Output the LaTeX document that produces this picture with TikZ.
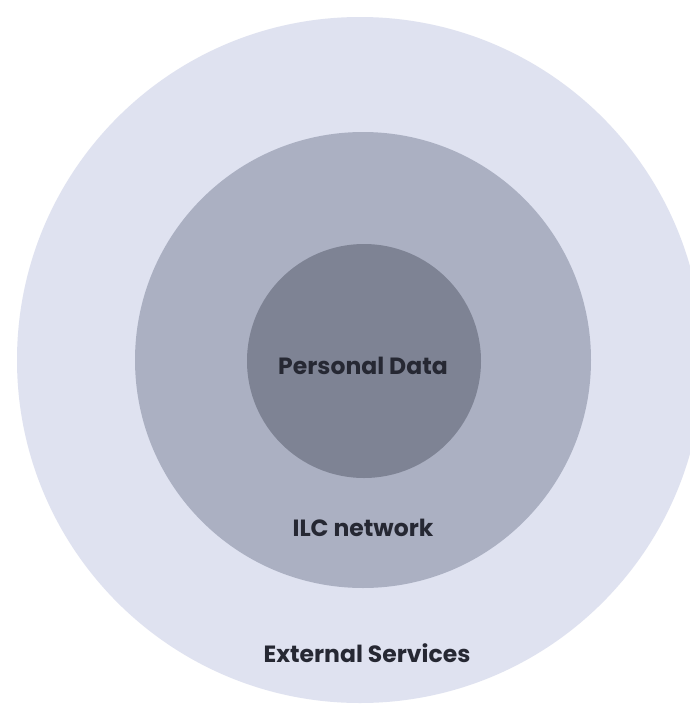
\documentclass[tikz,border=0pt]{standalone}
\usepackage{fontspec}
\setmainfont{Poppins}[UprightFont=* Bold, BoldFont=* Bold]
\definecolor{outerc}{HTML}{DFE2F0}
\definecolor{midc}{HTML}{ABB0C2}
\definecolor{innerc}{HTML}{7E8394}
\definecolor{textc}{HTML}{262833}
\begin{document}
\begin{tikzpicture}[x=1pt,y=-1pt,
  ring/.style={circle, draw=none, inner sep=0pt},
  lbl/.style={text=textc, font=\fontsize{23.5}{26}\selectfont, inner sep=0pt}]
\useasboundingbox (0,0) rectangle (690,705);
\clip (0,0) rectangle (690,705);
\fill[white] (0,0) rectangle (690,705);
\node[ring, fill=outerc, minimum size=686pt] (outer) at (360,360) {};
\node[ring, fill=midc, minimum size=456pt] (mid) at (363,360) {};
\node[ring, fill=innerc, minimum size=234pt] (inner) at (364,361) {};
\node[lbl] (pd) at (363,366) {Personal Data};
\node[lbl] (ilc) at (363,528) {ILC network};
\node[lbl] (ext) at (367,653) {External Services};
\end{tikzpicture}
\end{document}
